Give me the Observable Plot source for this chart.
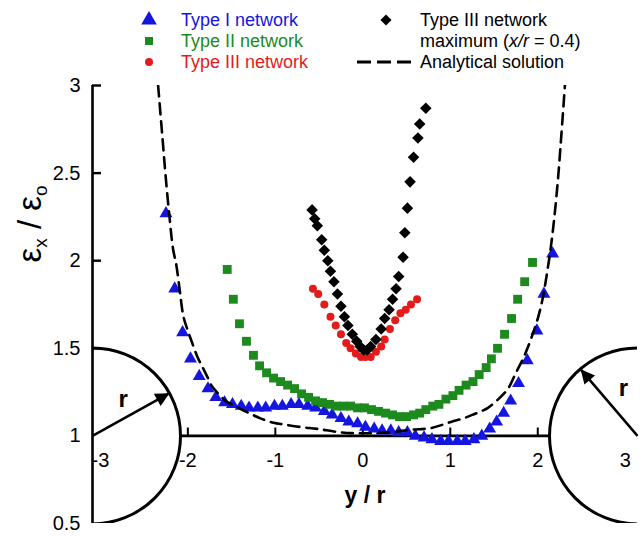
<!DOCTYPE html>
<html>
<head>
<meta charset="utf-8">
<script src="https://cdn.jsdelivr.net/npm/d3@7"></script>
<script src="https://cdn.jsdelivr.net/npm/@observablehq/plot@0.6"></script>
<style>
  body { margin: 0; background: #fff; }
  #fig { position: relative; width: 644px; height: 536px; font-family: "Liberation Sans", Arial, sans-serif; background: #fff; }
  #legend { position: absolute; left: 0; top: 0; }
  #chart { position: absolute; left: 0; top: 75px; }
</style>
</head>
<body>
<div id="fig">
  <svg id="legend" width="644" height="75"></svg>
  <div id="chart"></div>
</div>
<script>
// ---------- data ----------
const typeI_x = [-2.25,-2.15,-2.06,-1.97,-1.87,-1.77,-1.68,-1.58,-1.49,-1.39,-1.30,-1.20,-1.11,-1.01,-0.92,-0.82,-0.73,-0.63,-0.54,-0.44,-0.35,-0.25,-0.16,-0.06,0.03,0.13,0.22,0.32,0.41,0.51,0.60,0.70,0.79,0.89,0.98,1.08,1.17,1.27,1.36,1.45,1.53,1.61,1.69,1.78,1.88,1.99,2.07,2.17];
const typeI_y = [2.27,1.84,1.59,1.44,1.34,1.27,1.22,1.19,1.18,1.17,1.16,1.16,1.16,1.17,1.17,1.18,1.18,1.17,1.16,1.14,1.12,1.10,1.08,1.07,1.05,1.04,1.03,1.03,1.02,1.02,1.00,0.99,0.98,0.97,0.97,0.97,0.97,0.98,1.00,1.04,1.08,1.13,1.20,1.30,1.43,1.60,1.81,2.04];

const typeII_x = [-1.55,-1.48,-1.41,-1.33,-1.25,-1.18,-1.10,-1.02,-0.94,-0.86,-0.78,-0.70,-0.62,-0.54,-0.46,-0.38,-0.30,-0.22,-0.14,-0.06,0.02,0.10,0.18,0.26,0.34,0.42,0.50,0.58,0.65,0.72,0.80,0.87,0.95,1.03,1.10,1.18,1.26,1.33,1.41,1.47,1.54,1.62,1.70,1.77,1.85,1.94];
const typeII_y = [1.95,1.78,1.64,1.54,1.46,1.40,1.36,1.33,1.31,1.29,1.27,1.24,1.22,1.20,1.19,1.18,1.17,1.17,1.17,1.16,1.16,1.15,1.14,1.13,1.12,1.11,1.11,1.12,1.13,1.15,1.17,1.18,1.21,1.23,1.26,1.29,1.31,1.35,1.39,1.44,1.50,1.58,1.67,1.78,1.88,1.99];

const typeIII_x = [-0.57,-0.51,-0.44,-0.37,-0.31,-0.25,-0.19,-0.14,-0.08,-0.02,0.03,0.09,0.15,0.21,0.25,0.31,0.37,0.43,0.49,0.55,0.62];
const typeIII_y = [1.84,1.81,1.75,1.68,1.63,1.58,1.53,1.50,1.47,1.45,1.45,1.45,1.48,1.51,1.55,1.61,1.66,1.70,1.72,1.75,1.78];

const typeIIImax_x = [-0.58,-0.55,-0.52,-0.47,-0.44,-0.40,-0.37,-0.33,-0.29,-0.25,-0.21,-0.17,-0.12,-0.07,-0.03,0.01,0.05,0.09,0.15,0.21,0.25,0.30,0.34,0.38,0.41,0.46,0.48,0.51,0.54,0.58,0.63,0.65,0.72];
const typeIIImax_y = [2.29,2.24,2.20,2.12,2.06,2.00,1.94,1.88,1.81,1.74,1.68,1.63,1.58,1.54,1.51,1.49,1.49,1.51,1.55,1.61,1.67,1.72,1.78,1.84,1.91,2.02,2.16,2.30,2.45,2.59,2.70,2.78,2.87];

const analytic_x = [-2.34,-2.29,-2.25,-2.21,-2.17,-2.13,-2.09,-2.05,-2.00,-1.95,-1.89,-1.83,-1.77,-1.72,-1.65,-1.57,-1.50,-1.42,-1.30,-1.17,-1.02,-0.90,-0.70,-0.52,-0.25,0.00,0.30,0.55,0.78,1.04,1.15,1.25,1.35,1.43,1.55,1.66,1.75,1.84,1.92,2.00,2.05,2.09,2.15,2.19,2.23,2.27,2.31];
const analytic_y = [3.00,2.70,2.46,2.25,2.07,1.97,1.82,1.68,1.60,1.53,1.45,1.39,1.33,1.28,1.24,1.20,1.18,1.16,1.13,1.10,1.075,1.065,1.05,1.04,1.02,1.015,1.02,1.035,1.045,1.085,1.10,1.12,1.14,1.16,1.21,1.27,1.36,1.45,1.55,1.67,1.77,1.88,2.08,2.25,2.46,2.72,3.00];

const xTicks = [-3,-2,-1,0,1,2,3];
const xTickLabels = ["-3","-2","-1","0","1","2","3"];
const xTickMarks = [-2,-1,0,1,2];
const yTicks = [0.5,1,1.5,2,2.5,3];
const yTickLabels = ["0.5","1","1.5","2","2.5","3"];
const yTickMarks = [1.5,2,2.5,3];

const seriesNames = ["Type I network","Type II network","Type III network","Type III network","Analytical solution"];
const seriesColors = ["#1515e0","#1d8a1d","#e41b1b","#000000","#000000"];

// schematic holes (radius r) at the ends of the ligament
const holeX = [-3.09, 3.14];
const holeY = [1, 1];
const arrowTipX = [-2.21, 2.49];
const arrowTipY = [1.244, 1.38];
const rLabelX = [-2.74, 2.98];
const rLabelY = [1.21, 1.27];
const ligamentX = [-2.08, 2.14];

// ---------- tables ----------
const zip = (xs, ys) => xs.map((x, i) => ({x, y: ys[i]}));
const typeI = zip(typeI_x, typeI_y);
const typeII = zip(typeII_x, typeII_y);
const typeIII = zip(typeIII_x, typeIII_y);
const typeIIImax = zip(typeIIImax_x, typeIIImax_y);
const analytic = zip(analytic_x, analytic_y);
const holes = holeX.map((x, i) => ({x, y: holeY[i], tx: arrowTipX[i], ty: arrowTipY[i], lx: rLabelX[i], ly: rLabelY[i]}));

const W = 644, H = 461;
const mL = 92, mR = 7, mT = 10, mB = 13;
const frameW = W - mL - mR;

const chart = Plot.plot({
  width: W, height: H,
  marginLeft: mL, marginRight: mR, marginTop: mT, marginBottom: mB,
  x: {domain: [-3.09, 3.14], axis: null},
  y: {domain: [0.5, 3]},
  style: {fontFamily: "'Liberation Sans', Arial, sans-serif", fontSize: "20px", color: "#000", background: "#fff", overflow: "visible"},
  marks: [
    // left axis line
    Plot.ruleX([holeX[0]], {stroke: "#000", strokeWidth: 2.6}),
    // y tick marks (inward) and labels
    Plot.tickY(yTickMarks, {y: d => d, insetRight: frameW - 9, stroke: "#000", strokeWidth: 2.4}),
    Plot.axisY({ticks: yTicks, tickSize: 0, tickPadding: 12, tickFormat: d => yTickLabels[yTicks.indexOf(d)], label: null, fontSize: 20}),
    // ligament line at y = 1
    Plot.ruleY([1], {x1: ligamentX[0], x2: ligamentX[1], stroke: "#000", strokeWidth: 2.6}),
    Plot.ruleX(xTickMarks, {x: d => d, y1: 1, y2: 1.045, stroke: "#000", strokeWidth: 2}),
    Plot.text(xTicks, {x: d => d, frameAnchor: "bottom", dy: -57, text: d => xTickLabels[xTicks.indexOf(d)], fontSize: 20}),
    // holes
    Plot.dot(holes, {x: "x", y: "y", r: 88, stroke: "#000", strokeWidth: 3, fill: "none", clip: true}),
    Plot.link(holes, {x1: "x", y1: "y", x2: "tx", y2: "ty", stroke: "#000", strokeWidth: 2.5, className: "radius-arrow"}),
    Plot.text(holes, {x: "lx", y: "ly", text: () => "r", fontWeight: "bold", fontSize: 24}),
    // data series
    Plot.dot(typeI, {x: "x", y: "y", symbol: "triangle", r: 4.8, fill: seriesColors[0], stroke: "none"}),
    Plot.dot(typeII, {x: "x", y: "y", symbol: "square", r: 5, fill: seriesColors[1], stroke: "none"}),
    Plot.dot(typeIII, {x: "x", y: "y", symbol: "circle", r: 4, fill: seriesColors[2], stroke: "none"}),
    Plot.dot(typeIIImax, {x: "x", y: "y", symbol: "diamond2", r: 5.2, fill: seriesColors[3], stroke: "none"}),
    Plot.line(analytic, {x: "x", y: "y", stroke: "#000", strokeWidth: 2.6, strokeDasharray: "11,7", curve: "catmull-rom", clip: true}),
    // axis titles
    Plot.text(["y / r"], {frameAnchor: "bottom", dy: -21, fontWeight: "bold", fontSize: 23}),
    Plot.text(["εx / εo"], {frameAnchor: "left", dx: -62, dy: -42, rotate: -90, fontSize: 33, className: "ytitle"})
  ]
});
document.getElementById("chart").appendChild(chart);

// filled arrow heads
const svg = d3.select(chart.tagName.toLowerCase() === "svg" ? chart : chart.querySelector("svg"));
const defs = svg.insert("defs", ":first-child");
defs.append("marker").attr("id", "rhead").attr("viewBox", "0 0 10 10")
  .attr("refX", 10).attr("refY", 5).attr("markerUnits", "userSpaceOnUse")
  .attr("markerWidth", 18).attr("markerHeight", 14).attr("orient", "auto")
  .append("path").attr("d", "M0,0L10,5L0,10Z").attr("fill", "#000");
svg.selectAll(".radius-arrow path").attr("marker-end", "url(#rhead)");

// subscripts in the y title
const yt = svg.select(".ytitle text");
yt.text(null);
yt.append("tspan").text("ε");
yt.append("tspan").attr("font-size", 19).attr("dy", 6).text("x");
yt.append("tspan").attr("dy", -6).text(" / ε");
yt.append("tspan").attr("font-size", 19).attr("dy", 6).text("o");

// ---------- legend ----------
const leg = d3.select("#legend").style("font-family", "'Liberation Sans', Arial, sans-serif");
const legendItems = [
  {type: d3.symbolTriangle, r: 5.8, sx: 149, sy: 20, color: seriesColors[0], label: seriesNames[0], tx: 181, ty: 20},
  {type: d3.symbolSquare, r: 4.5, sx: 149, sy: 41, color: seriesColors[1], label: seriesNames[1], tx: 181, ty: 41},
  {type: d3.symbolCircle, r: 4, sx: 149, sy: 62, color: seriesColors[2], label: seriesNames[2], tx: 181, ty: 62},
  {type: d3.symbolDiamond2, r: 5, sx: 386, sy: 20, color: seriesColors[3], label: seriesNames[3], tx: 420, ty: 20}
];
for (const it of legendItems) {
  leg.append("path").attr("transform", `translate(${it.sx},${it.sy})`)
    .attr("d", d3.symbol(it.type, Math.PI * it.r * it.r)()).attr("fill", it.color);
  leg.append("text").attr("x", it.tx).attr("y", it.ty).attr("dy", "0.35em")
    .attr("font-size", 18).attr("fill", it.color).text(it.label);
}
const mx = leg.append("text").attr("x", 420).attr("y", 41).attr("dy", "0.35em").attr("font-size", 18).attr("fill", "#000");
mx.append("tspan").text("maximum (");
mx.append("tspan").attr("font-style", "italic").text("x/r");
mx.append("tspan").text(" = 0.4)");
leg.append("line").attr("x1", 357).attr("x2", 413).attr("y1", 62).attr("y2", 62)
  .attr("stroke", "#000").attr("stroke-width", 2.8).attr("stroke-dasharray", "14,6");
leg.append("text").attr("x", 420).attr("y", 62).attr("dy", "0.35em").attr("font-size", 18)
  .attr("fill", "#000").text(seriesNames[4]);
</script>
</body>
</html>
